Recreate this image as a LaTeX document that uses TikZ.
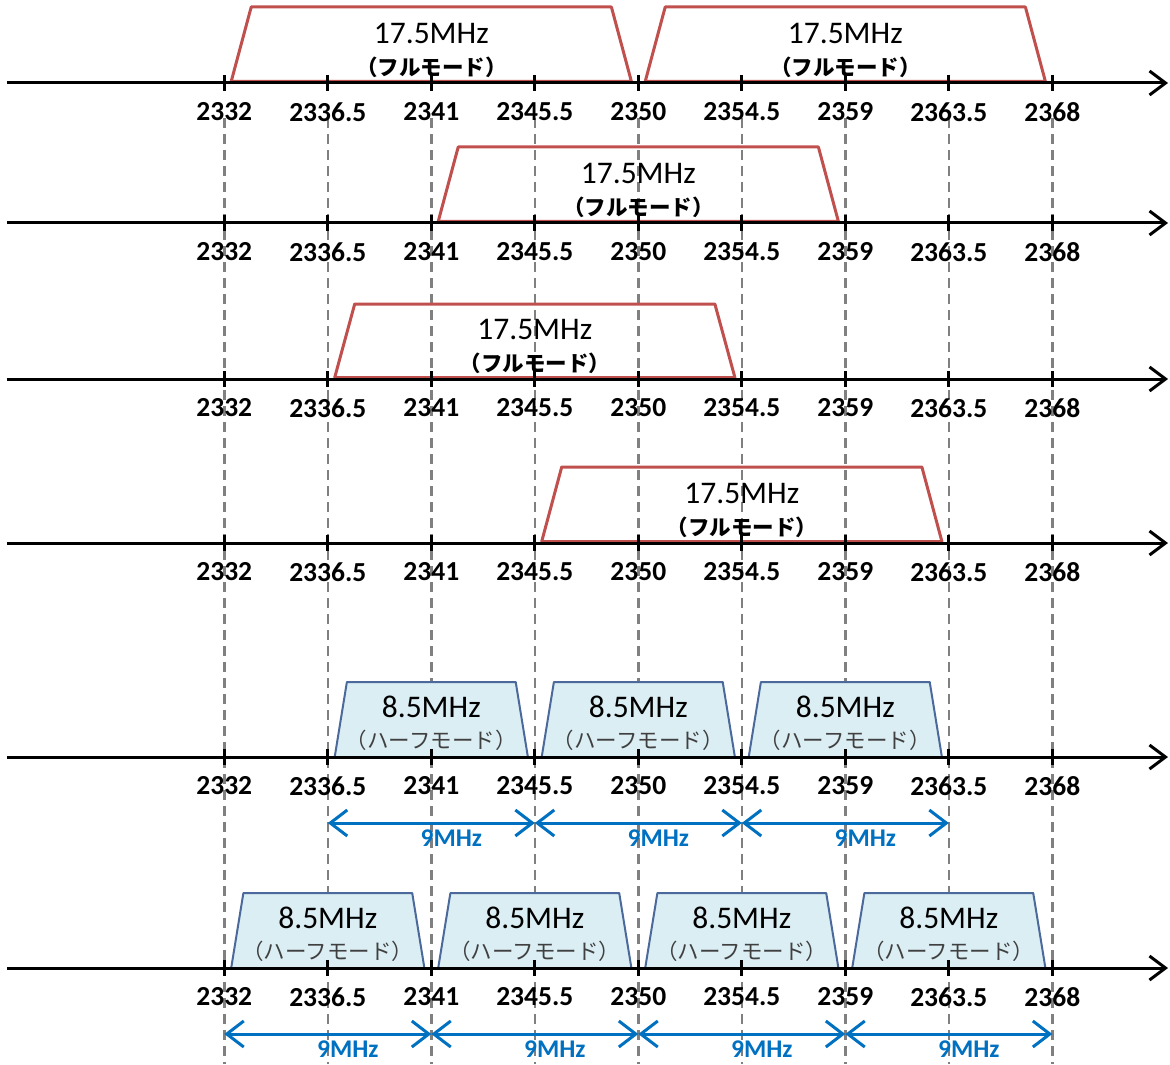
\documentclass[tikz,border=0pt]{standalone}
\usepackage{fontspec}
\setmainfont{Carlito}
\newfontfamily\jpfont{Noto Sans CJK JP}
\usetikzlibrary{arrows.meta, positioning}
\definecolor{fullred}{RGB}{192,80,77}
\definecolor{halffill}{RGB}{219,238,244}
\definecolor{halfline}{RGB}{75,105,155}
\definecolor{spanblue}{RGB}{0,112,192}
\definecolor{guidegray}{RGB}{128,128,128}

\begin{document}
\begin{tikzpicture}[
        x=23pt, y=-1pt,
        axisline/.style={line width=3pt, -{Straight Barb[length=16pt, width=24pt]}},
        tickmark/.style={line width=3pt},
        guide/.style={guidegray, line width=2.5pt, dash pattern=on 10pt off 6pt},
        ticklabel/.style={font=\bfseries\fontsize{27.5}{29}\selectfont, inner sep=0pt},
        fullband/.style={fullred, line width=3pt, line join=round},
        halfband/.style={halfline, fill=halffill, line width=2pt, line join=round},
        bandtitle/.style={font=\fontsize{31.5}{33}\selectfont, inner sep=0pt},
        fullnote/.style={font=\jpfont\bfseries\fontsize{21.5}{23}\selectfont, inner sep=0pt},
        halfnote/.style={font=\jpfont\fontsize{21.5}{23}\selectfont, text=black!75, inner sep=0pt},
        span/.style={spanblue, line width=3pt,
            {Straight Barb[length=17pt, width=26pt]}-{Straight Barb[length=17pt, width=26pt]}},
        spanlabel/.style={font=\bfseries\fontsize{25.5}{27}\selectfont, text=spanblue, inner sep=0pt}
    ]
        \useasboundingbox (-9.752,0) rectangle (41.117,1064);

        % Dashed guides at every channel edge
        \foreach \i in {0,...,8} {
            \coordinate (g\i t) at (4.5*\i,118);
            \coordinate (g\i b) at (4.5*\i,1064);
            \draw[guide] (g\i t) -- (g\i b);
        }

        % Full mode bands (17.5MHz)
        \draw[fullband] (0.3,81.5) -- (1.17,7) -- (16.83,7) -- (17.7,81.5) -- cycle;
        \node[bandtitle] (f1a) at (9,33) {17.5MHz};
        \node[fullnote] (n1a) at (9,67) {（フルモード）};
        \draw[fullband] (18.3,81.5) -- (19.17,7) -- (34.83,7) -- (35.7,81.5) -- cycle;
        \node[bandtitle] (f1b) at (27,33) {17.5MHz};
        \node[fullnote] (n1b) at (27,67) {（フルモード）};

        \draw[fullband] (9.3,221.5) -- (10.17,147) -- (25.83,147) -- (26.7,221.5) -- cycle;
        \node[bandtitle] (f2) at (18,173) {17.5MHz};
        \node[fullnote] (n2) at (18,207) {（フルモード）};

        \draw[fullband] (4.8,377.5) -- (5.67,304) -- (21.33,304) -- (22.2,377.5) -- cycle;
        \node[bandtitle] (f3) at (13.5,329) {17.5MHz};
        \node[fullnote] (n3) at (13.5,363) {（フルモード）};

        \draw[fullband] (13.8,541.5) -- (14.67,467) -- (30.33,467) -- (31.2,541.5) -- cycle;
        \node[bandtitle] (f4) at (22.5,493) {17.5MHz};
        \node[fullnote] (n4) at (22.5,527) {（フルモード）};

        % Half mode bands (8.5MHz), row 5
        \draw[halfband] (4.8,757) -- (5.33,682) -- (12.67,682) -- (13.2,757) -- cycle;
        \node[bandtitle] (h5a) at (9,707) {8.5MHz};
        \node[halfnote] (m5a) at (9,740) {（ハーフモード）};
        \draw[halfband] (13.8,757) -- (14.33,682) -- (21.67,682) -- (22.2,757) -- cycle;
        \node[bandtitle] (h5b) at (18,707) {8.5MHz};
        \node[halfnote] (m5b) at (18,740) {（ハーフモード）};
        \draw[halfband] (22.8,757) -- (23.33,682) -- (30.67,682) -- (31.2,757) -- cycle;
        \node[bandtitle] (h5c) at (27,707) {8.5MHz};
        \node[halfnote] (m5c) at (27,740) {（ハーフモード）};

        % Half mode bands (8.5MHz), row 6
        \draw[halfband] (0.3,968) -- (0.83,893) -- (8.17,893) -- (8.7,968) -- cycle;
        \node[bandtitle] (h6a) at (4.5,918) {8.5MHz};
        \node[halfnote] (m6a) at (4.5,951) {（ハーフモード）};
        \draw[halfband] (9.3,968) -- (9.83,893) -- (17.17,893) -- (17.7,968) -- cycle;
        \node[bandtitle] (h6b) at (13.5,918) {8.5MHz};
        \node[halfnote] (m6b) at (13.5,951) {（ハーフモード）};
        \draw[halfband] (18.3,968) -- (18.83,893) -- (26.17,893) -- (26.7,968) -- cycle;
        \node[bandtitle] (h6c) at (22.5,918) {8.5MHz};
        \node[halfnote] (m6c) at (22.5,951) {（ハーフモード）};
        \draw[halfband] (27.3,968) -- (27.83,893) -- (35.17,893) -- (35.7,968) -- cycle;
        \node[bandtitle] (h6d) at (31.5,918) {8.5MHz};
        \node[halfnote] (m6d) at (31.5,951) {（ハーフモード）};

        % Frequency axes with ticks and labels
        \foreach \r/\y in {1/83, 2/223, 3/379, 4/543, 5/757, 6/968} {
            \coordinate (a\r s) at (-9.45,\y);
            \coordinate (a\r e) at (41.03,\y);
            \draw[axisline] (a\r s) -- (a\r e);
            \foreach \i/\f in {0/2332, 1/2336.5, 2/2341, 3/2345.5, 4/2350,
                               5/2354.5, 6/2359, 7/2363.5, 8/2368} {
                \draw[tickmark] (4.5*\i,\y-8) -- (4.5*\i,\y+8);
                \node[ticklabel] (l\r-\i) at (4.5*\i,\y+29) {\f};
            }
        }

        % 9MHz channel spacing
        \foreach \i in {0,...,8} {
            \coordinate (s5-\i) at (4.5*\i,823);
            \coordinate (s6-\i) at (4.5*\i,1034);
        }
        \draw[span] (s5-1) -- (s5-3);
        \draw[span] (s5-3) -- (s5-5);
        \draw[span] (s5-5) -- (s5-7);
        \node[spanlabel] (w5a) at (9.87,838) {9MHz};
        \node[spanlabel] (w5b) at (18.87,838) {9MHz};
        \node[spanlabel] (w5c) at (27.87,838) {9MHz};

        \draw[span] (s6-0) -- (s6-2);
        \draw[span] (s6-2) -- (s6-4);
        \draw[span] (s6-4) -- (s6-6);
        \draw[span] (s6-6) -- (s6-8);
        \node[spanlabel] (w6a) at (5.37,1049) {9MHz};
        \node[spanlabel] (w6b) at (14.37,1049) {9MHz};
        \node[spanlabel] (w6c) at (23.37,1049) {9MHz};
        \node[spanlabel] (w6d) at (32.37,1049) {9MHz};
    \end{tikzpicture}
\end{document}
